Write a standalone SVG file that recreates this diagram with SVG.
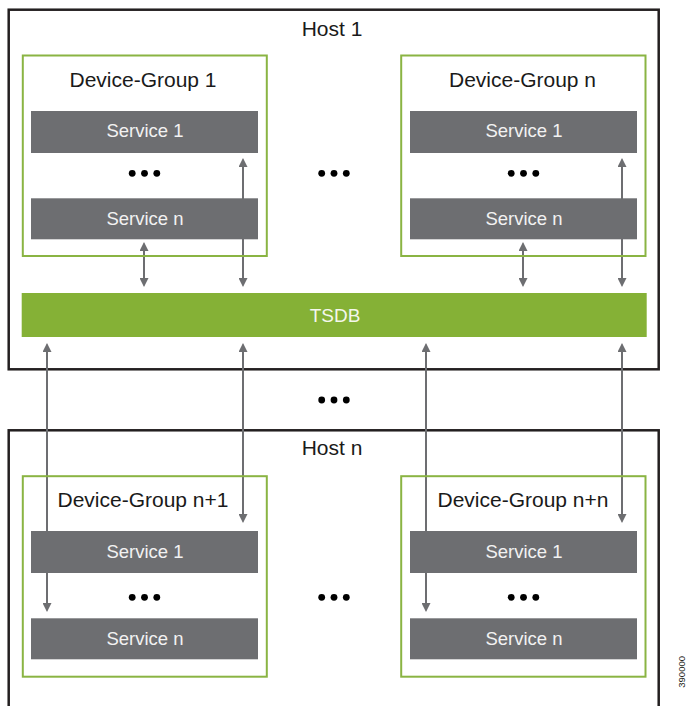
<svg xmlns="http://www.w3.org/2000/svg" width="686" height="706" viewBox="0 0 686 706">
  <style>
    .host { fill: #ffffff; stroke: #231f20; stroke-width: 2.5; }
    .grp { fill: none; stroke: #8ab443; stroke-width: 2; }
    .svc { fill: #6d6e71; }
    .tsdb { fill: #85b136; }
    .lbl { font-family: "Liberation Sans", Arial, sans-serif; font-size: 21px; fill: #1a1a1a; text-anchor: middle; }
    .svct { font-family: "Liberation Sans", Arial, sans-serif; font-size: 18.5px; fill: #f2f2f2; text-anchor: middle; }
    .tsdbt { font-family: "Liberation Sans", Arial, sans-serif; font-size: 19px; fill: #f4f7ec; text-anchor: middle; }
    .link { fill: none; stroke: #6d6e71; stroke-width: 2; marker-start: url(#head); marker-end: url(#head); }
    .figid { font-family: "Liberation Sans", Arial, sans-serif; font-size: 9.5px; fill: #231f20; text-anchor: end; }
  </style>
  <defs>
    <marker id="head" viewBox="0 0 10 10" refX="8" refY="5" markerWidth="9" markerHeight="9" markerUnits="userSpaceOnUse" orient="auto-start-reverse">
      <path d="M0,0 L10,5 L0,10 Z" fill="#6d6e71"/>
    </marker>
    <g id="dots">
      <circle cx="-12.3" cy="0" r="3.4" fill="#000"/>
      <circle cx="0" cy="0" r="3.4" fill="#000"/>
      <circle cx="12.3" cy="0" r="3.4" fill="#000"/>
    </g>
  </defs>

  <!-- hosts -->
  <g id="host-1">
    <rect class="host" x="8.7" y="9.7" width="650" height="359.6"/>
    <text class="lbl" x="332" y="35.5">Host 1</text>
  </g>
  <g id="host-n">
    <rect class="host" x="8.7" y="430.3" width="650" height="300"/>
    <text class="lbl" x="332" y="455">Host n</text>
  </g>

  <!-- ellipses between hosts and groups -->
  <g id="gaps">
    <use href="#dots" x="334" y="173.3"/>
    <use href="#dots" x="334" y="400"/>
    <use href="#dots" x="334" y="597.3"/>
  </g>

  <!-- links between services and the time-series store -->
  <g id="connectors">
    <path class="link" d="M144,243.8 V285.2"/>
    <path class="link" d="M243,159.8 V285.2"/>
    <path class="link" d="M523,243.8 V285.2"/>
    <path class="link" d="M622,159.8 V285.2"/>
    <path class="link" d="M47,344.8 V610.2"/>
    <path class="link" d="M243,344.8 V521.2"/>
    <path class="link" d="M426,344.8 V610.2"/>
    <path class="link" d="M622,344.8 V521.2"/>
  </g>

  <!-- device groups -->
  <g id="device-group-1">
    <rect class="grp" x="22.8" y="55.5" width="244" height="200.5"/>
    <text class="lbl" x="143" y="86.7">Device-Group 1</text>
    <rect class="svc" x="31" y="111" width="227" height="42"/>
    <text class="svct" x="145" y="137.3">Service 1</text>
    <use href="#dots" x="144.5" y="173.3"/>
    <rect class="svc" x="31" y="198.3" width="227" height="41"/>
    <text class="svct" x="145" y="225">Service n</text>
  </g>
  <g id="device-group-n">
    <rect class="grp" x="401.2" y="55.5" width="244.3" height="200.5"/>
    <text class="lbl" x="522.5" y="86.7">Device-Group n</text>
    <rect class="svc" x="410" y="111" width="227" height="42"/>
    <text class="svct" x="524" y="137.3">Service 1</text>
    <use href="#dots" x="523.5" y="173.3"/>
    <rect class="svc" x="410" y="198.3" width="227" height="41"/>
    <text class="svct" x="524" y="225">Service n</text>
  </g>
  <g id="device-group-n1">
    <rect class="grp" x="22.8" y="476.2" width="244" height="200.5"/>
    <text class="lbl" x="143" y="506.7">Device-Group n+1</text>
    <rect class="svc" x="31" y="531" width="227" height="42"/>
    <text class="svct" x="145" y="557.5">Service 1</text>
    <use href="#dots" x="144.5" y="597.3"/>
    <rect class="svc" x="31" y="618.3" width="227" height="41"/>
    <text class="svct" x="145" y="645">Service n</text>
  </g>
  <g id="device-group-nn">
    <rect class="grp" x="401.2" y="476.2" width="244.3" height="200.5"/>
    <text class="lbl" x="523" y="506.7">Device-Group n+n</text>
    <rect class="svc" x="410" y="531" width="227" height="42"/>
    <text class="svct" x="524" y="557.5">Service 1</text>
    <use href="#dots" x="523.5" y="597.3"/>
    <rect class="svc" x="410" y="618.3" width="227" height="41"/>
    <text class="svct" x="524" y="645">Service n</text>
  </g>

  <!-- shared time-series database -->
  <g id="tsdb">
    <rect class="tsdb" x="21.7" y="293" width="625" height="44"/>
    <text class="tsdbt" x="335" y="321.7">TSDB</text>
  </g>

  <!-- figure number on the right margin -->
  <text class="figid" transform="translate(685,656) rotate(-90)">390000</text>
</svg>
